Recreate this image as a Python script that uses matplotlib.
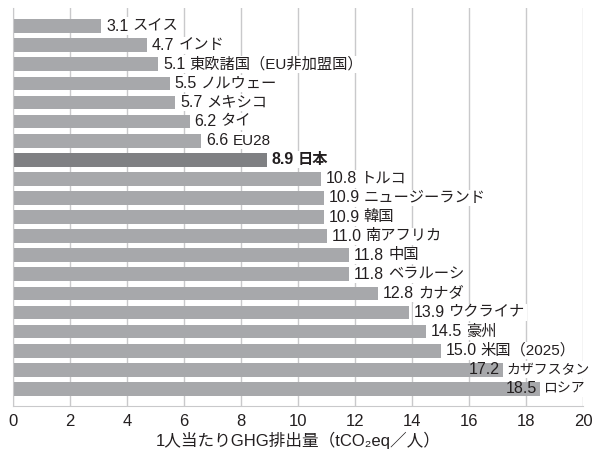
import matplotlib
matplotlib.use('Agg')
import matplotlib.pyplot as plt

plt.rcParams['font.family'] = ['Liberation Sans', 'Noto Sans CJK JP', 'DejaVu Sans']

# データ
names = ['スイス', 'インド', '東欧諸国（EU非加盟国）', 'ノルウェー', 'メキシコ', 'タイ', 'EU28', '日本',
         'トルコ', 'ニュージーランド', '韓国', '南アフリカ', '中国', 'ベラルーシ', 'カナダ',
         'ウクライナ', '豪州', '米国（2025）', 'カザフスタン', 'ロシア']
values = [3.1, 4.7, 5.1, 5.5, 5.7, 6.2, 6.6, 8.9, 10.8, 10.9, 10.9, 11.0, 11.8, 11.8, 12.8,
          13.9, 14.5, 15.0, 17.2, 18.5]
highlight = '日本'
xticks = list(range(0, 21, 2))

text_color = '#231f20'
bar_color = '#a7a8ab'
hl_color = '#7f8083'
grid_color = '#c9c9cb'

fig = plt.figure(figsize=(5.99, 4.53), dpi=100)
ax = fig.add_axes([0.0217, 0.104, 0.9516, 0.878])

ypos = list(range(len(names)))
colors = [hl_color if n == highlight else bar_color for n in names]
ax.barh(ypos, values, height=0.72, color=colors, zorder=2)

white = dict(facecolor='white', edgecolor='none', pad=1.0)

# ラベル（数値 + 国名）
for y, v, n in zip(ypos, values, names):
    weight = 'bold' if n == highlight else 'normal'
    if v > 17:
        # 右端に収まるよう数値はバーの上に置く
        ax.annotate(f'{v:.1f}', xy=(v, y), xytext=(-2.5, 0), textcoords='offset points',
                    ha='right', va='center', fontsize=11.5, color=text_color, zorder=3)
        ax.annotate(n, xy=(v, y), xytext=(2.0, 0), textcoords='offset points',
                    ha='left', va='center', fontsize=10, color=text_color, zorder=4,
                    annotation_clip=False, bbox=white)
    else:
        num = ax.annotate(f'{v:.1f}', xy=(v, y), xytext=(3.5, 0), textcoords='offset points',
                          ha='left', va='center', fontsize=11.5, color=text_color,
                          fontweight=weight, zorder=3, bbox=white)
        ax.annotate(n, xy=(1, 0.5), xycoords=num, xytext=(3.0, 0), textcoords='offset points',
                    ha='left', va='center', fontsize=11, color=text_color,
                    fontweight=weight, zorder=3, bbox=white)

ax.set_xlim(0, 20)
ax.set_ylim(len(names) - 0.11, -0.94)
ax.set_xticks(xticks)
ax.set_xticklabels([str(t) for t in xticks], fontsize=12, color=text_color)
ax.set_yticks([])
ax.tick_params(axis='x', length=0, pad=6)
ax.grid(axis='x', color=grid_color, linewidth=1.0, zorder=0)
ax.set_axisbelow(True)

for s in ['top', 'right']:
    ax.spines[s].set_visible(False)
ax.spines['left'].set_color(grid_color)
ax.spines['bottom'].set_color(grid_color)

ax.set_xlabel('1人当たりGHG排出量（tCO₂eq／人）', fontsize=12, color=text_color, labelpad=2)

fig.savefig('out.png', dpi=100)
